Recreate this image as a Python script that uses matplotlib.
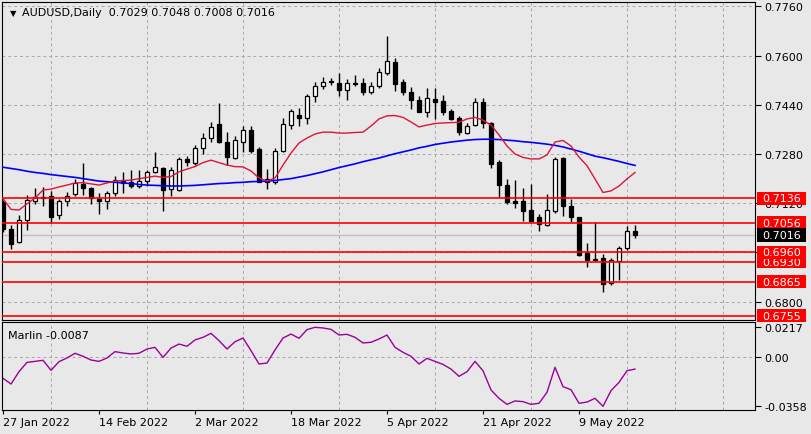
import numpy as np
import pandas as pd
import matplotlib
matplotlib.use('Agg')
import matplotlib.pyplot as plt
from matplotlib.patches import Rectangle
from matplotlib.transforms import blended_transform_factory

# --- AUDUSD daily bars, 27 Jan - 18 May 2022 ---
dates = pd.bdate_range('2022-01-27', '2022-05-18')

opens = [0.7123, 0.7036, 0.6995, 0.7066, 0.7128, 0.7139, 0.7143, 0.7082, 0.7128, 0.7149,
         0.7182, 0.7169, 0.7134, 0.7126, 0.7152, 0.7191, 0.7188, 0.7175, 0.7191, 0.7220,
         0.7235, 0.7166, 0.7163, 0.7264, 0.7251, 0.7299, 0.7331, 0.7378, 0.7320, 0.7267,
         0.7320, 0.7358, 0.7296, 0.7190, 0.7190, 0.7289, 0.7375, 0.7407, 0.7396, 0.7468,
         0.7500, 0.7516, 0.7511, 0.7489, 0.7510, 0.7511, 0.7482, 0.7500, 0.7543, 0.7578,
         0.7515, 0.7482, 0.7456, 0.7416, 0.7459, 0.7453, 0.7421, 0.7396, 0.7348, 0.7374,
         0.7448, 0.7380, 0.7255, 0.7179, 0.7127, 0.7127, 0.7098, 0.7074, 0.7049, 0.7096,
         0.7266, 0.7112, 0.7074, 0.6957, 0.6938, 0.6941, 0.6860, 0.6933, 0.6973, 0.7029]
highs = [0.7130, 0.7049, 0.7082, 0.7147, 0.7169, 0.7172, 0.7160, 0.7134, 0.7155, 0.7199,
         0.7251, 0.7173, 0.7152, 0.7161, 0.7208, 0.7220, 0.7229, 0.7229, 0.7229, 0.7286,
         0.7237, 0.7238, 0.7269, 0.7274, 0.7309, 0.7348, 0.7383, 0.7446, 0.7351, 0.7339,
         0.7372, 0.7372, 0.7302, 0.7231, 0.7299, 0.7396, 0.7426, 0.7428, 0.7475, 0.7513,
         0.7529, 0.7526, 0.7543, 0.7524, 0.7538, 0.7526, 0.7513, 0.7559, 0.7664, 0.7592,
         0.7524, 0.7497, 0.7469, 0.7493, 0.7493, 0.7472, 0.7426, 0.7404, 0.7381, 0.7461,
         0.7461, 0.7383, 0.7260, 0.7199, 0.7196, 0.7169, 0.7182, 0.7085, 0.7150, 0.7269,
         0.7271, 0.7134, 0.7076, 0.6991, 0.7058, 0.6955, 0.6941, 0.6982, 0.7045, 0.7048]
lows = [0.7025, 0.6972, 0.6990, 0.7034, 0.7118, 0.7112, 0.7056, 0.7069, 0.7110, 0.7144,
        0.7148, 0.7118, 0.7085, 0.7101, 0.7144, 0.7152, 0.7169, 0.7169, 0.7177, 0.7218,
        0.7096, 0.7144, 0.7160, 0.7240, 0.7244, 0.7280, 0.7318, 0.7316, 0.7244, 0.7264,
        0.7287, 0.7283, 0.7188, 0.7166, 0.7182, 0.7285, 0.7361, 0.7372, 0.7378, 0.7450,
        0.7491, 0.7504, 0.7469, 0.7456, 0.7502, 0.7472, 0.7475, 0.7495, 0.7537, 0.7486,
        0.7472, 0.7426, 0.7416, 0.7399, 0.7394, 0.7407, 0.7391, 0.7342, 0.7345, 0.7372,
        0.7364, 0.7235, 0.7139, 0.7117, 0.7104, 0.7063, 0.7060, 0.7031, 0.7047, 0.7088,
        0.7079, 0.7060, 0.6948, 0.6912, 0.6933, 0.6831, 0.6855, 0.6871, 0.6969, 0.7008]
closes = [0.7036, 0.6988, 0.7066, 0.7130, 0.7139, 0.7136, 0.7074, 0.7126, 0.7144, 0.7185,
          0.7169, 0.7137, 0.7128, 0.7152, 0.7196, 0.7185, 0.7177, 0.7191, 0.7220, 0.7237,
          0.7164, 0.7228, 0.7264, 0.7253, 0.7299, 0.7331, 0.7367, 0.7320, 0.7269, 0.7325,
          0.7358, 0.7291, 0.7190, 0.7199, 0.7289, 0.7378, 0.7419, 0.7397, 0.7468, 0.7500,
          0.7513, 0.7513, 0.7489, 0.7511, 0.7509, 0.7482, 0.7500, 0.7546, 0.7581, 0.7507,
          0.7480, 0.7456, 0.7417, 0.7461, 0.7450, 0.7417, 0.7394, 0.7350, 0.7372, 0.7450,
          0.7380, 0.7248, 0.7179, 0.7123, 0.7122, 0.7096, 0.7063, 0.7052, 0.7098, 0.7264,
          0.7112, 0.7076, 0.6953, 0.6935, 0.6937, 0.6858, 0.6936, 0.6973, 0.7029, 0.7016]

# moving averages drawn on the chart (red = fast, blue = slow)
ma_fast = [0.7135, 0.7100, 0.7098, 0.7118, 0.7137, 0.7163, 0.7166, 0.7173, 0.7179, 0.7186,
           0.7187, 0.7183, 0.7179, 0.7186, 0.7192, 0.7194, 0.7195, 0.7200, 0.7204, 0.7208,
           0.7204, 0.7207, 0.7222, 0.7231, 0.7239, 0.7252, 0.7260, 0.7252, 0.7244, 0.7239,
           0.7238, 0.7225, 0.7202, 0.7192, 0.7202, 0.7244, 0.7283, 0.7316, 0.7332, 0.7345,
           0.7351, 0.7351, 0.7348, 0.7348, 0.7350, 0.7351, 0.7371, 0.7394, 0.7404, 0.7405,
           0.7399, 0.7384, 0.7368, 0.7374, 0.7379, 0.7381, 0.7382, 0.7383, 0.7394, 0.7399,
           0.7390, 0.7374, 0.7342, 0.7306, 0.7280, 0.7269, 0.7264, 0.7264, 0.7277, 0.7319,
           0.7324, 0.7306, 0.7270, 0.7242, 0.7199, 0.7155, 0.7160, 0.7176, 0.7199, 0.7220]
ma_slow = [0.7237, 0.7233, 0.7229, 0.7224, 0.7220, 0.7217, 0.7213, 0.7210, 0.7207, 0.7204,
           0.7200, 0.7196, 0.7192, 0.7190, 0.7188, 0.7186, 0.7184, 0.7181, 0.7179, 0.7178,
           0.7177, 0.7176, 0.7176, 0.7177, 0.7178, 0.7180, 0.7182, 0.7184, 0.7185, 0.7187,
           0.7188, 0.7190, 0.7191, 0.7192, 0.7194, 0.7197, 0.7200, 0.7205, 0.7210, 0.7216,
           0.7222, 0.7229, 0.7236, 0.7242, 0.7248, 0.7255, 0.7261, 0.7267, 0.7274, 0.7281,
           0.7287, 0.7293, 0.7300, 0.7305, 0.7311, 0.7315, 0.7319, 0.7322, 0.7325, 0.7327,
           0.7328, 0.7328, 0.7327, 0.7325, 0.7323, 0.7320, 0.7318, 0.7315, 0.7312, 0.7308,
           0.7303, 0.7296, 0.7289, 0.7281, 0.7273, 0.7268, 0.7262, 0.7256, 0.7249, 0.7243]

# Marlin oscillator (lower window)
marlin = [-0.0154, -0.0196, -0.0106, -0.0038, -0.0031, -0.0023, -0.0096, -0.0033, -0.0006, 0.0028,
          0.0006, -0.0021, -0.0031, -0.0006, 0.0040, 0.0030, 0.0023, 0.0028, 0.0059, 0.0071,
          -0.0002, 0.0066, 0.0095, 0.0079, 0.0125, 0.0144, 0.0173, 0.0120, 0.0059, 0.0112,
          0.0139, 0.0047, -0.0050, -0.0043, 0.0052, 0.0139, 0.0168, 0.0137, 0.0200, 0.0217,
          0.0212, 0.0202, 0.0161, 0.0166, 0.0144, 0.0103, 0.0108, 0.0132, 0.0161, 0.0071,
          0.0035, 0.0006, -0.0050, -0.0009, -0.0031, -0.0053, -0.0087, -0.0140, -0.0106, -0.0031,
          -0.0099, -0.0239, -0.0300, -0.0344, -0.0319, -0.0324, -0.0344, -0.0336, -0.0256, -0.0074,
          -0.0215, -0.0237, -0.0336, -0.0327, -0.0300, -0.0358, -0.0244, -0.0184, -0.0099, -0.0087]

# horizontal levels drawn by the analyst (drawing order matters for the labels)
levels = [0.7136, 0.7056, 0.6930, 0.6960, 0.6865, 0.6755]
bid = 0.7016

price_ticks = [0.6800, 0.6960, 0.7120, 0.7280, 0.7440, 0.7600, 0.7760]
marlin_ticks = [0.0217, 0.0, -0.0358]
marlin_tick_labels = ['0.0217', '0.00', '-0.0358']
label_dates = ['2022-01-27', '2022-02-14', '2022-03-02', '2022-03-18',
               '2022-04-05', '2022-04-21', '2022-05-09']

BG = '#e8e8e8'
GRID = '#a8a8a8'
W, H = 812, 435


def box(l, t, r, b):
    return [l / W, 1 - b / H, (r - l) / W, (b - t) / H]


opens = np.array(opens)
highs = np.array(highs)
lows = np.array(lows)
closes = np.array(closes)
x = np.arange(len(opens))

fig = plt.figure(figsize=(W / 100, H / 100), dpi=100, facecolor=BG)
ax = fig.add_axes(box(2.3, 2.7, 755, 321))
axm = fig.add_axes(box(2.3, 323.3, 755, 411), sharex=ax)

for a in (ax, axm):
    a.set_facecolor(BG)
    for s in a.spines.values():
        s.set_color('black')
        s.set_linewidth(0.8)
    a.set_xticks(np.arange(6, 95, 6), minor=True)
    a.grid(which='minor', axis='x', color=GRID, linestyle=(0, (3, 3)), linewidth=0.7)
    a.set_axisbelow(True)
    a.yaxis.tick_right()
    a.tick_params(axis='y', which='major', direction='out', length=4, width=0.8,
                  pad=3, labelsize=8, colors='black')
    a.tick_params(axis='x', which='minor', length=0)

ax.set_xlim(-0.09, 94)

# --- price window ---
ax.set_ylim(0.67405, 0.77750)
ax.set_yticks(price_ticks)
ax.set_yticklabels([f'{t:.4f}' for t in price_ticks])
ax.grid(which='major', axis='y', color=GRID, linestyle=(0, (3, 3)), linewidth=0.7)
ax.tick_params(axis='x', which='major', length=0, labelbottom=False)

up = closes >= opens
body_lo = np.minimum(opens, closes)
body_h = np.maximum(np.abs(closes - opens), 0.00003)
ax.vlines(x, lows, highs, color='black', linewidth=1.0, zorder=3)
ax.bar(x, body_h, bottom=body_lo, width=0.62,
       color=np.where(up, 'white', 'black'), edgecolor='black', linewidth=0.9, zorder=4)

ax.axhline(bid, color='#c0c0c0', linewidth=1.0, zorder=2)
for lv in levels:
    ax.axhline(lv, color='#ff0000', linewidth=1.2, zorder=5)

ax.plot(x, ma_slow, color='#0000ff', linewidth=1.2, zorder=6)
ax.plot(x, ma_fast, color='#dc143c', linewidth=1.0, zorder=6)

# price labels on the right axis
tr = blended_transform_factory(ax.transAxes, ax.transData)
ax_w = 755 - 2.3
lab_h = 13.5 / 3077.0


def tag(val, fc, z):
    ax.add_patch(Rectangle(((757 - 2.3) / ax_w, val - lab_h / 2), 49 / ax_w, lab_h,
                           transform=tr, facecolor=fc, edgecolor='none',
                           clip_on=False, zorder=z))
    ax.text((762 - 2.3) / ax_w, val, f'{val:.4f}', transform=tr, color='white',
            fontsize=8, ha='left', va='center', clip_on=False, zorder=z + 0.5)


z = 20
for lv in levels[:2]:
    tag(lv, '#ff0000', z)
    z += 1
tag(bid, 'black', z)
z += 1
for lv in levels[2:]:
    tag(lv, '#ff0000', z)
    z += 1

ax.text(8 / ax_w, 1 - 10.5 / 318.3, '\u25bc', transform=ax.transAxes, fontsize=6,
        ha='left', va='center', color='black')
ax.text(20 / ax_w, 1 - 10.5 / 318.3,
        f'AUDUSD,Daily  {opens[-1]:.4f} {highs[-1]:.4f} {lows[-1]:.4f} {closes[-1]:.4f}',
        transform=ax.transAxes, fontsize=8, ha='left', va='center', color='black')

# --- Marlin window ---
axm.plot(x, marlin, color='#9b009b', linewidth=1.0)
axm.set_ylim(-0.03849, 0.02534)
axm.set_yticks(marlin_ticks)
axm.set_yticklabels(marlin_tick_labels)
axm.axhline(0.0, color=GRID, linestyle=(0, (3, 3)), linewidth=0.7, zorder=0)
axm.text(6 / ax_w, 1 - 13 / 87.7, f'Marlin {marlin[-1]:.4f}', transform=axm.transAxes,
         fontsize=8, ha='left', va='center', color='black')

tick_pos = [dates.get_loc(pd.Timestamp(d)) for d in label_dates]
axm.set_xticks(tick_pos)
axm.set_xticklabels([f'{dates[i].day} {dates[i]:%b %Y}' for i in tick_pos])
axm.tick_params(axis='x', which='major', direction='out', length=3, width=0.8,
                pad=2, labelsize=8, colors='black')
for t in axm.get_xticklabels():
    t.set_horizontalalignment('left')

fig.savefig('out.png', dpi=100, facecolor=BG)
